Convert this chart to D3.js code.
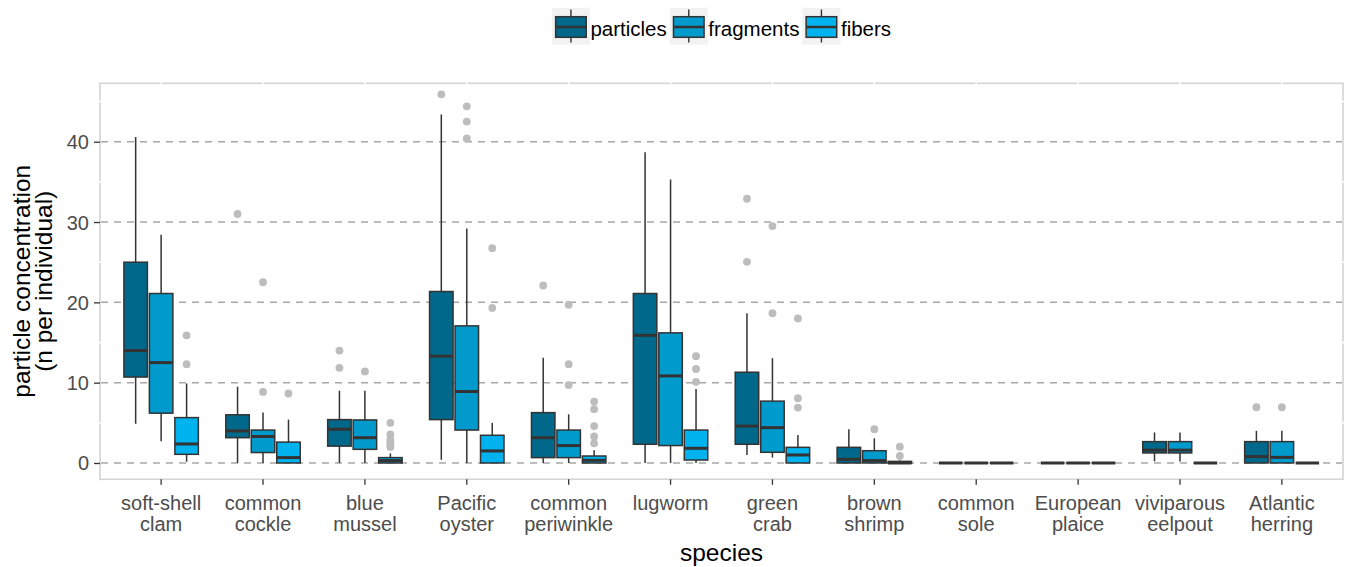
<!DOCTYPE html>
<html>
<head>
<meta charset="utf-8">
<script src="https://cdn.jsdelivr.net/npm/d3@7"></script>
<style>
    body { margin: 0; background: #fff; }
    text { font-family: "Liberation Sans", Arial, sans-serif; }
</style>
</head>
<body>
<div id="app"></div>
<script>
const categories = ["soft-shell clam", "common cockle", "blue mussel", "Pacific oyster", "common periwinkle", "lugworm",
    "green crab", "brown shrimp", "common sole", "European plaice", "viviparous eelpout", "Atlantic herring"];

const seriesNames = ["particles", "fragments", "fibers"];
const seriesColors = ["#00688B", "#009ACD", "#00B2EE"];

// [lower whisker, q1, median, q3, upper whisker]
const particlesStats = [
    [4.9, 10.7, 14.0, 25.0, 40.6], [0, 3.15, 4.0, 6.0, 9.5], [0, 2.1, 4.2, 5.4, 9.0], [0.4, 5.4, 13.3, 21.35, 43.4],
    [0, 0.67, 3.15, 6.27, 13.1], [0, 2.33, 15.9, 21.1, 38.7], [1.0, 2.33, 4.6, 11.3, 18.65], [0, 0, 0.45, 1.95, 4.2],
    [0, 0, 0, 0, 0], [0, 0, 0, 0, 0], [0.2, 1.25, 1.6, 2.66, 3.8], [0, 0, 0.8, 2.66, 4.0]
];
const fragmentsStats = [
    [2.7, 6.2, 12.5, 21.1, 28.4], [0, 1.3, 3.3, 4.1, 6.3], [0, 1.7, 3.15, 5.36, 9.0], [0, 4.1, 8.9, 17.07, 29.2],
    [0, 0.67, 2.17, 4.1, 6.06], [0, 2.17, 10.84, 16.2, 35.3], [0.67, 1.33, 4.4, 7.7, 13.05], [0, 0, 0.3, 1.53, 3.07],
    [0, 0, 0, 0, 0], [0, 0, 0, 0, 0], [0.2, 1.25, 1.6, 2.66, 3.8], [0, 0, 0.7, 2.66, 4.0]
];
const fibersStats = [
    [0.15, 1.08, 2.37, 5.65, 9.9], [0, 0, 0.67, 2.6, 5.4], [0, 0, 0.3, 0.67, 1.2], [0, 0, 1.5, 3.45, 5.0],
    [0, 0, 0.33, 0.87, 1.6], [0, 0.37, 1.83, 4.1, 9.2], [0, 0, 1.0, 1.95, 3.5], [0, 0, 0, 0.2, 0.3],
    [0, 0, 0, 0, 0], [0, 0, 0, 0, 0], [0, 0, 0, 0, 0], [0, 0, 0, 0, 0]
];

const particlesOutliers = [[], [31.0], [14.0, 11.85], [45.9], [22.1], [], [32.9, 25.05], [], [], [], [], [6.94]];
const fragmentsOutliers = [[], [22.5, 8.85], [11.4], [44.4, 42.5, 40.4], [19.7, 12.3, 9.7], [], [29.5, 18.65], [4.2], [], [], [], [6.94]];
const fibersOutliers = [[15.9, 12.3], [8.65], [5.0, 3.57, 2.9, 2.6, 2.3, 2.0], [26.75, 19.3], [7.65, 6.7, 4.6, 3.3, 2.45],
    [13.3, 11.7, 10.1], [18.0, 8.06, 6.9], [2.03, 0.87], [], [], [], []];

const yTicks = [0, 10, 20, 30, 40];
const yMinor = [5, 15, 25, 35, 45];

const width = 1346;
const height = 567;
const panelL = 100;
const panelR = 1343;
const panelT = 83.3;
const panelB = 479.3;

const allStats = [particlesStats, fragmentsStats, fibersStats];
const allOutliers = [particlesOutliers, fragmentsOutliers, fibersOutliers];

const svg = d3.select("#app")
    .append("svg")
    .attr("width", width)
    .attr("height", height);

const x = d3.scaleBand()
    .domain(categories)
    .range([panelL, panelR])
    .paddingInner(0)
    .paddingOuter(0.1);

const y = d3.scaleLinear()
    .domain([-2.03, 47.27])
    .range([panelB, panelT]);

const dodge = x.step() * 0.25;
const boxW = 23.5;

//PANEL
svg.append("rect")
    .attr("x", panelL)
    .attr("y", panelT)
    .attr("width", panelR - panelL)
    .attr("height", panelB - panelT)
    .style("fill", "white")
    .style("stroke", "#D4D4D4")
    .style("stroke-width", 1.6);

// white grid lines (show only where they cross the border)
svg.selectAll(".minor")
    .data(yMinor)
    .enter()
    .append("line")
    .attr("x1", panelL - 1.5)
    .attr("x2", panelR + 1.5)
    .attr("y1", d => y(d))
    .attr("y2", d => y(d))
    .style("stroke", "white")
    .style("stroke-width", 1.5);
svg.selectAll(".vgrid")
    .data(categories)
    .enter()
    .append("line")
    .attr("x1", d => x(d) + x.bandwidth() / 2)
    .attr("x2", d => x(d) + x.bandwidth() / 2)
    .attr("y1", panelT - 1.5)
    .attr("y2", panelB - 2)
    .style("stroke", "white")
    .style("stroke-width", 1.5);

svg.selectAll(".major")
    .data(yTicks)
    .enter()
    .append("line")
    .attr("x1", panelL + 1)
    .attr("x2", panelR - 1)
    .attr("y1", d => y(d))
    .attr("y2", d => y(d))
    .style("stroke", "#A8A8A8")
    .style("stroke-width", 1.5)
    .style("stroke-dasharray", "7,6");

//AXES
const yAxis = svg.append("g")
    .attr("transform", "translate(" + panelL + ",0)")
    .call(d3.axisLeft(y).tickValues(yTicks).tickSize(6).tickPadding(5));
yAxis.select(".domain").remove();
yAxis.selectAll(".tick line").style("stroke", "#333").style("stroke-width", 1.3);
yAxis.selectAll(".tick text")
    .style("font-size", "20px")
    .style("fill", "#4D4D4D")
    .attr("dy", "0.35em");

const xAxis = svg.append("g")
    .attr("transform", "translate(0," + panelB + ")")
    .call(d3.axisBottom(x).tickSize(5.5).tickFormat(""));
xAxis.select(".domain").remove();
xAxis.selectAll(".tick line").style("stroke", "#333").style("stroke-width", 1.3);
xAxis.selectAll(".tick")
    .append("text")
    .attr("text-anchor", "middle")
    .style("font-size", "20px")
    .style("fill", "#4D4D4D")
    .selectAll("tspan")
    .data(d => d.split(" "))
    .enter()
    .append("tspan")
    .attr("x", 0)
    .attr("y", (d, i) => 31 + i * 21)
    .text(d => d);

svg.append("text")
    .attr("x", (panelL + panelR) / 2)
    .attr("y", 561)
    .attr("text-anchor", "middle")
    .style("font-size", "24.5px")
    .style("fill", "black")
    .text("species");

const yTitle = svg.append("text")
    .attr("transform", "translate(0," + ((panelT + panelB) / 2) + ") rotate(-90)")
    .attr("text-anchor", "middle")
    .style("font-size", "24.5px")
    .style("fill", "black");
yTitle.append("tspan").attr("x", 0).attr("y", 30).text("particle concentration");
yTitle.append("tspan").attr("x", 0).attr("y", 52).text("(n per individual)");

//BOXES
seriesNames.forEach(function (name, j) {
    const g = svg.append("g").attr("class", "series-" + name);
    const stats = allStats[j];
    const outl = allOutliers[j];
    const cx = function (i) {
        return x(categories[i]) + x.bandwidth() / 2 + (j - 1) * dodge;
    };

    const outPts = [];
    outl.forEach(function (vals, i) {
        vals.forEach(function (v) {
            outPts.push({ i: i, v: v });
        });
    });
    g.selectAll("circle")
        .data(outPts)
        .enter()
        .append("circle")
        .attr("cx", d => cx(d.i))
        .attr("cy", d => y(d.v))
        .attr("r", 3.9)
        .style("fill", "#BDBDBD");

    const box = g.selectAll(".box")
        .data(stats)
        .enter()
        .append("g");
    box.append("line")
        .attr("x1", (d, i) => cx(i))
        .attr("x2", (d, i) => cx(i))
        .attr("y1", d => y(d[0]))
        .attr("y2", d => y(d[4]))
        .style("stroke", "#333")
        .style("stroke-width", 1.5);
    box.append("rect")
        .attr("x", (d, i) => cx(i) - boxW / 2)
        .attr("y", d => y(d[3]))
        .attr("width", boxW)
        .attr("height", d => y(d[1]) - y(d[3]))
        .style("fill", seriesColors[j])
        .style("stroke", "#333")
        .style("stroke-width", 1.5);
    box.append("line")
        .attr("x1", (d, i) => cx(i) - boxW / 2)
        .attr("x2", (d, i) => cx(i) + boxW / 2)
        .attr("y1", d => y(d[2]))
        .attr("y2", d => y(d[2]))
        .style("stroke", "#333")
        .style("stroke-width", 3);
});

//LEGEND
const keyW = 38;
const keyH = 37;
const legend = svg.append("g");
let lx = 0;
seriesNames.forEach(function (name, j) {
    const item = legend.append("g").attr("transform", "translate(" + lx + ",0)");
    item.append("rect")
        .attr("x", 0)
        .attr("y", 7.7)
        .attr("width", keyW)
        .attr("height", keyH)
        .style("fill", "#F2F2F2");
    item.append("line")
        .attr("x1", keyW / 2)
        .attr("x2", keyW / 2)
        .attr("y1", 9.5)
        .attr("y2", 42.5)
        .style("stroke", "#333")
        .style("stroke-width", 1.4);
    item.append("rect")
        .attr("x", 3.7)
        .attr("y", 16.7)
        .attr("width", keyW - 7.4)
        .attr("height", 20.6)
        .style("fill", seriesColors[j])
        .style("stroke", "#333")
        .style("stroke-width", 1.5);
    item.append("line")
        .attr("x1", 3.7)
        .attr("x2", keyW - 3.7)
        .attr("y1", 27)
        .attr("y2", 27)
        .style("stroke", "#333")
        .style("stroke-width", 2.5);
    const t = item.append("text")
        .attr("x", keyW + 0.5)
        .attr("y", 35.5)
        .style("font-size", "20.5px")
        .style("fill", "black")
        .text(name);
    lx += keyW + 0.5 + t.node().getComputedTextLength() + 3;
});
const legendW = lx - 3;
legend.attr("transform", "translate(" + ((panelL + panelR) / 2 - legendW / 2) + ",0)");
</script>
</body>
</html>
